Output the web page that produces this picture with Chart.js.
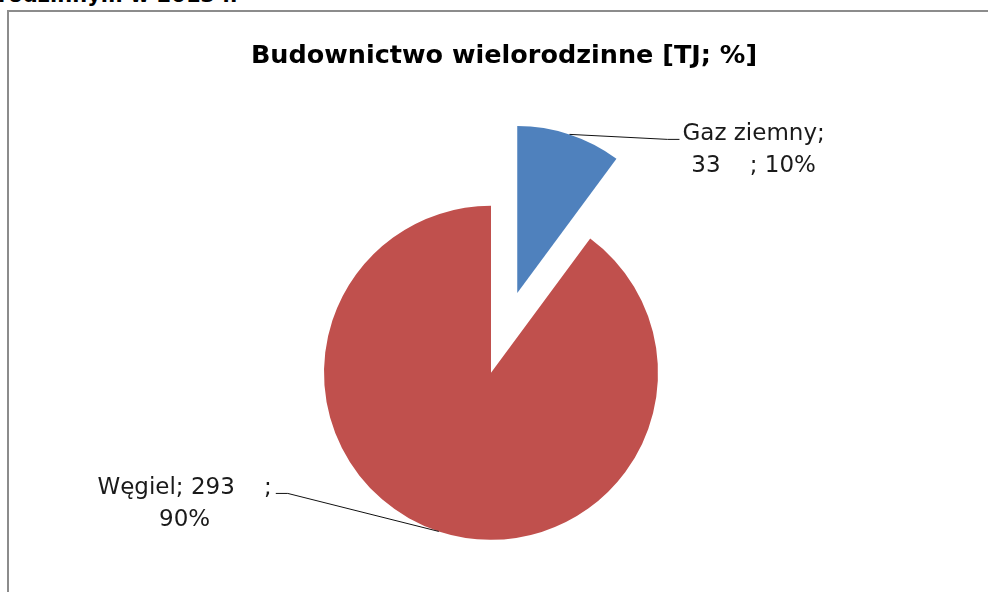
<!DOCTYPE html>
<html>
<head>
<meta charset="utf-8">
<script src="https://cdn.jsdelivr.net/npm/chart.js@4.4.1/dist/chart.umd.min.js"></script>
<style>
  html, body { margin: 0; padding: 0; overflow: hidden; background: #fff; }
  #heading { position: absolute; left: -2px; top: -17px; font: bold 21px "DejaVu Sans"; white-space: nowrap; color: #000; }
  #frame { position: absolute; left: 7px; top: 10px; width: 1000px; height: 600px; border: 2px solid #8c8c8c; }
  #myChart { position: absolute; left: 0; top: 0; }
</style>
</head>
<body>
  <div id="heading">rodzinnym w 2013 r.</div>
  <div id="frame"></div>
  <canvas id="myChart" width="988" height="592"></canvas>
  <script>
    // dane [TJ]
    var categories = ['Gaz ziemny', 'Węgiel'];
    var values = [33, 293];
    var colors = ['#4F81BD', '#C0504D'];

    function wrapParts(ctx, parts, maxW) {
      var lines = [];
      var cur = '';
      parts.forEach(function (p) {
        var test = cur ? cur + ' ' + p : p;
        if (cur && ctx.measureText(test).width > maxW) {
          lines.push(cur);
          cur = p;
        } else {
          cur = test;
        }
      });
      if (cur) lines.push(cur);
      return lines;
    }

    // wysuniecie wycinka, przesuniecie kola + etykiety z linia odniesienia
    var pieExtras = {
      id: 'pieExtras',
      afterDatasetUpdate: function (chart, args, opts) {
        args.meta.data.forEach(function (arc, i) {
          var d = opts.explode[i] || 0;
          var mid = (arc.startAngle + arc.endAngle) / 2;
          arc.x += Math.cos(mid) * d + opts.shiftX;
          arc.y += Math.sin(mid) * d;
        });
      },
      afterDatasetsDraw: function (chart, args, opts) {
        var ctx = chart.ctx;
        var arcs = chart.getDatasetMeta(0).data;
        var total = values.reduce(function (a, b) { return a + b; }, 0);
        ctx.save();
        ctx.font = opts.font;
        ctx.fillStyle = '#1a1a1a';
        ctx.strokeStyle = '#111';
        ctx.lineWidth = 1;
        arcs.forEach(function (arc, i) {
          var mid = (arc.startAngle + arc.endAngle) / 2;
          var ex = arc.x + Math.cos(mid) * arc.outerRadius;
          var ey = arc.y + Math.sin(mid) * arc.outerRadius;
          var lead = opts.leaders[i];
          var side = lead.dx > 0 ? 1 : -1;
          var endX = ex + lead.dx, endY = ey + lead.dy;
          ctx.beginPath();
          ctx.moveTo(ex, ey);
          ctx.lineTo(endX - side * 12, endY);
          ctx.lineTo(endX, endY);
          ctx.stroke();

          var pct = Math.round(values[i] / total * 100);
          var lines = wrapParts(ctx, [categories[i] + ';', values[i] + '    ;', pct + '%'], opts.wrapWidth);
          var w = Math.max.apply(null, lines.map(function (l) { return ctx.measureText(l).width; }));
          var cx = side > 0 ? endX + 3 + w / 2 : endX - 4 - w / 2;
          ctx.textAlign = 'center';
          ctx.textBaseline = 'middle';
          lines.forEach(function (l, k) {
            ctx.fillText(l, cx, endY - 5 + k * 32);
          });
        });
        ctx.restore();
      }
    };

    var ctx = document.getElementById('myChart');
    var myChart = new Chart(ctx, {
      type: 'pie',
      data: {
        labels: categories,
        datasets: [{
          data: values,
          backgroundColor: colors,
          borderWidth: 0
        }]
      },
      options: {
        responsive: false,
        animation: false,
        events: [],
        radius: 167,
        layout: { padding: { left: 20, right: 0, top: 0, bottom: 0 } },
        plugins: {
          legend: { display: false },
          tooltip: { enabled: false },
          title: {
            display: true,
            text: 'Budownictwo wielorodzinne [TJ; %]',
            color: '#000',
            font: { family: 'DejaVu Sans', size: 25.5, weight: 'bold' },
            padding: { top: 41, bottom: 82 }
          },
          pieExtras: {
            explode: [84, 0],
            shiftX: -13,
            leaders: [{ dx: 110, dy: 5 }, { dx: -163, dy: -38 }],
            wrapWidth: 190,
            font: '23px "DejaVu Sans"'
          }
        }
      },
      plugins: [pieExtras]
    });
  </script>
</body>
</html>
